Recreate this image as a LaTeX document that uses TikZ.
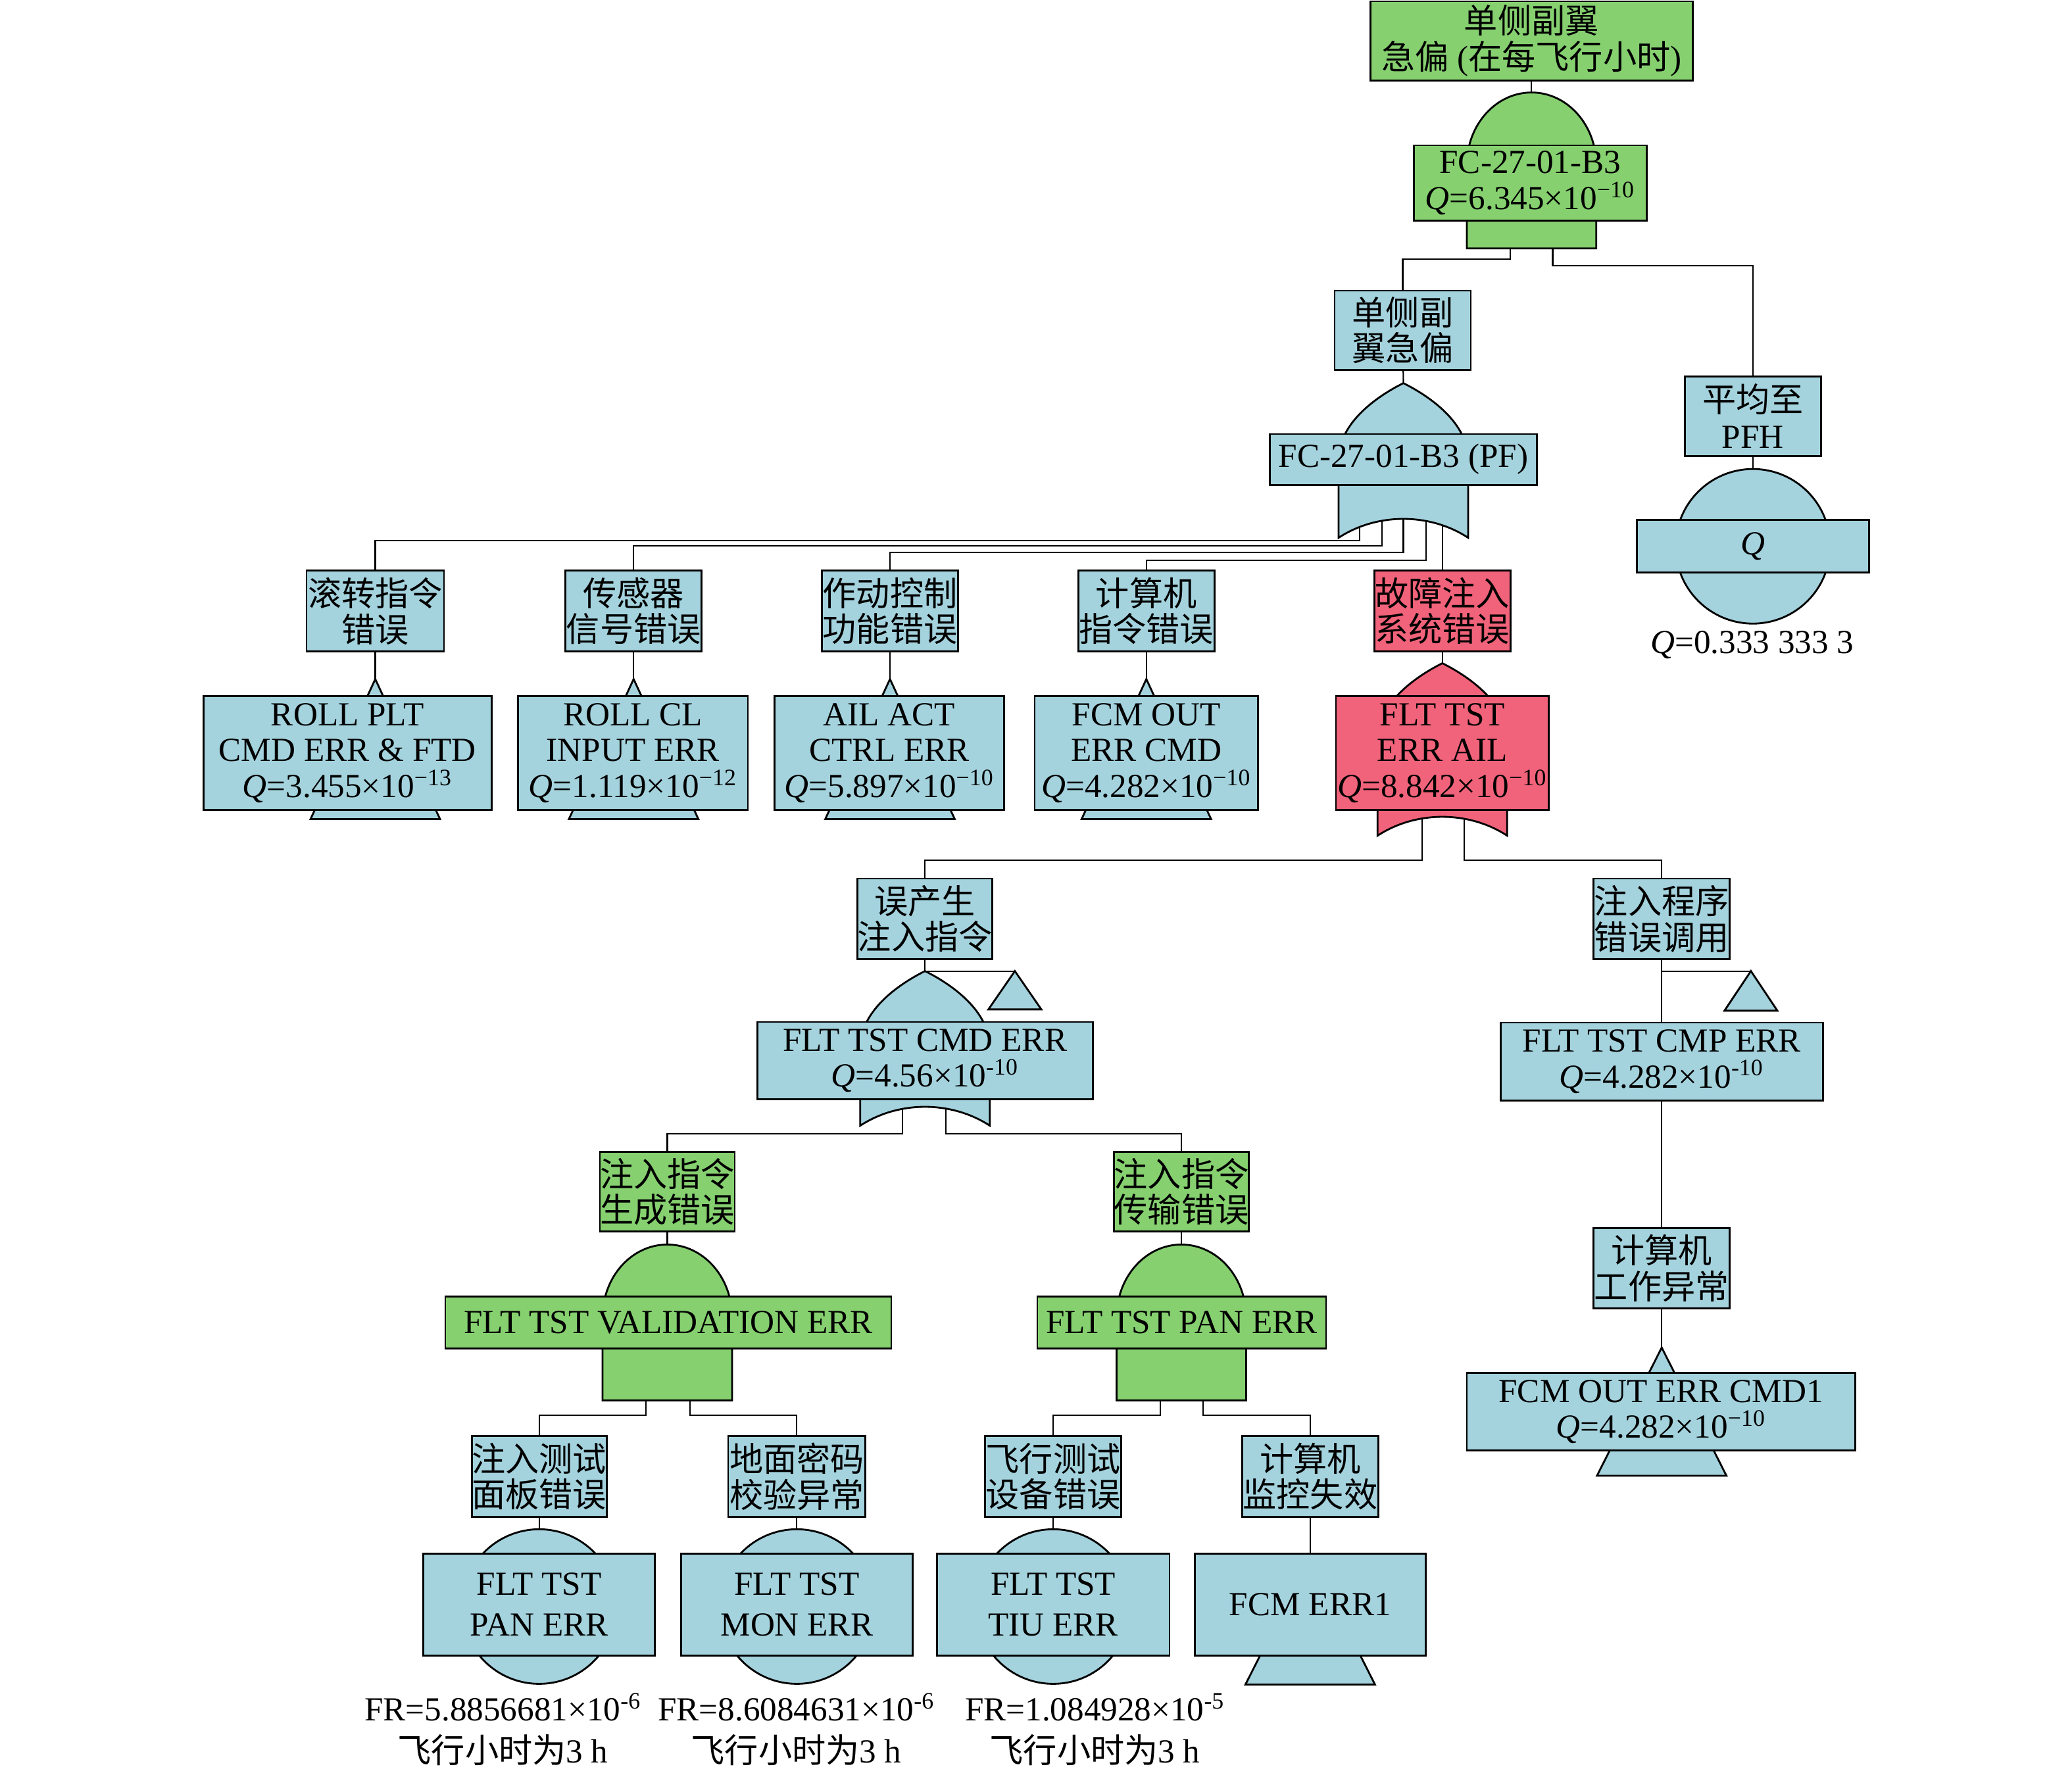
\documentclass[tikz,border=0pt]{standalone}
\usepackage{fontspec}
\setmainfont{Liberation Serif}
\newfontfamily\cjk{Noto Sans CJK SC}
\usepackage{xcolor}
\definecolor{ftgreen}{RGB}{134,208,112}
\definecolor{ftblue}{RGB}{164,211,222}
\definecolor{ftred}{RGB}{241,99,122}
\pgfdeclarelayer{wires}
\pgfdeclarelayer{gates}
\pgfsetlayers{wires,gates,main}
\newcommand{\zh}[1]{{\cjk #1}}
\newcommand{\qv}[2]{\textit{Q}=#1×10\textsuperscript{#2}}
% AND gate: x, apex y, bottom y, colour
\newcommand{\andgate}[4]{\draw[gate,fill=#4] ({#1-49},#3) -- ({#1-49},{#2+55}) .. controls ({#1-49},{#2+24.6}) and ({#1-27.1},#2) .. (#1,#2) .. controls ({#1+27.1},#2) and ({#1+49},{#2+24.6}) .. ({#1+49},{#2+55}) -- ({#1+49},#3) -- cycle;}
% OR gate: x, apex y, tip y, colour
\newcommand{\orgate}[4]{\draw[gate,fill=#4] (#1,#2) .. controls ({#1+20},{#2+10}) and ({#1+49},{#2+30}) .. ({#1+49},{#2+58}) -- ({#1+49},#3) .. controls ({#1+20},{#3-19}) and ({#1-20},{#3-19}) .. ({#1-49},#3) -- ({#1-49},{#2+58}) .. controls ({#1-49},{#2+30}) and ({#1-20},{#2+10}) .. (#1,#2) -- cycle;}
% transfer triangle: x, apex y, base y, half width
\newcommand{\xfer}[4]{\draw[gate,fill=ftblue] (#1,#2) -- ({#1+#4},#3) -- ({#1-#4},#3) -- cycle;}

\begin{document}
\begin{tikzpicture}[x=0.2mm,y=-0.2mm,
  box/.style={draw,line width=0.8pt,inner sep=0pt,align=center,font=\fontsize{14.5}{15.5}\selectfont},
  sz/.style 2 args={minimum width=#1*0.2mm,minimum height=#2*0.2mm},
  gate/.style={draw,line width=0.8pt},
  wire/.style={draw,line width=0.6pt},
  evc/.style={circle,draw,fill=ftblue,line width=0.8pt,inner sep=0pt,minimum size=117*0.2mm},
  lab/.style={inner sep=0pt,align=center,font=\fontsize{14.5}{18}\selectfont}]
\useasboundingbox (0,0) rectangle (1568,1342);

%Top event
\node[box,fill=ftgreen,sz={244}{60}] (top) at (1159,31) {\zh{单侧副翼}\\\zh{急偏} (\zh{在每飞行小时})};
\node[box,fill=ftgreen,sz={176}{57}] (fc) at (1158,138.5) {FC-27-01-B3\\\qv{6.345}{−10}};
\node[box,fill=ftblue,sz={103}{60}] (sfy) at (1061.5,250) {\zh{单侧副}\\\zh{翼急偏}};
\node[box,fill=ftblue,sz={202}{38.5}] (pf) at (1062,347.75) {FC-27-01-B3 (PF)};
\node[box,fill=ftblue,sz={103}{60}] (pfh) at (1326.5,315) {\zh{平均至}\\PFH};
\node[box,fill=ftblue,sz={175.5}{40}] (qb) at (1326.5,413.5) {\textit{Q}};
\node[lab] (qlab) at (1326,488) {\textit{Q}=0.333 333 3};

%Second row
\node[box,fill=ftblue,sz={104}{61}] (gz1) at (284,462.5) {\zh{滚转指令}\\\zh{错误}};
\node[box,fill=ftblue,sz={103}{61}] (gz2) at (479.5,462.5) {\zh{传感器}\\\zh{信号错误}};
\node[box,fill=ftblue,sz={103}{61}] (gz3) at (673.5,462.5) {\zh{作动控制}\\\zh{功能错误}};
\node[box,fill=ftblue,sz={103}{61}] (gz4) at (867.5,462.5) {\zh{计算机}\\\zh{指令错误}};
\node[box,fill=ftred,sz={103}{61}] (gz5) at (1091.5,462.5) {\zh{故障注入}\\\zh{系统错误}};

\node[box,fill=ftblue,sz={218}{86}] (ev1) at (263,570) {ROLL PLT\\CMD ERR \& FTD\\\qv{3.455}{−13}};
\node[box,fill=ftblue,sz={174}{86}] (ev2) at (479,570) {ROLL CL\\INPUT ERR\\\qv{1.119}{−12}};
\node[box,fill=ftblue,sz={174}{86}] (ev3) at (673,570) {AIL ACT\\CTRL ERR\\\qv{5.897}{−10}};
\node[box,fill=ftblue,sz={169}{86}] (ev4) at (867.5,570) {FCM OUT\\ERR CMD\\\qv{4.282}{−10}};
\node[box,fill=ftred,sz={161}{86}] (ev5) at (1091.5,570) {FLT TST\\ERR AIL\\\qv{8.842}{−10}};

%Fault injection branch
\node[box,fill=ftblue,sz={102}{61}] (cmdg) at (700,695.5) {\zh{误产生}\\\zh{注入指令}};
\node[box,fill=ftblue,sz={103}{61}] (cmpg) at (1257.5,695.5) {\zh{注入程序}\\\zh{错误调用}};
\node[box,fill=ftblue,sz={254}{58.5}] (cmd) at (700,802.75) {FLT TST CMD ERR\\\qv{4.56}{-10}};
\node[box,fill=ftblue,sz={244}{59}] (cmp) at (1257.5,803.5) {FLT TST CMP ERR\\\qv{4.282}{-10}};
\node[box,fill=ftgreen,sz={102}{60.5}] (gen) at (505,902) {\zh{注入指令}\\\zh{生成错误}};
\node[box,fill=ftgreen,sz={102}{60.5}] (trn) at (894,902) {\zh{注入指令}\\\zh{传输错误}};
\node[box,fill=ftblue,sz={103}{60.5}] (wrk) at (1257.5,960) {\zh{计算机}\\\zh{工作异常}};
\node[box,fill=ftgreen,sz={337.5}{39.6}] (val) at (505.75,1001) {FLT TST VALIDATION ERR};
\node[box,fill=ftgreen,sz={218.5}{39.6}] (pan) at (894.25,1001) {FLT TST PAN ERR};
\node[box,fill=ftblue,sz={294}{59}] (out1) at (1257,1068.5) {FCM OUT ERR CMD1\\\qv{4.282}{−10}};

%Basic events
\node[box,fill=ftblue,sz={102}{61}] (b1) at (408,1117.5) {\zh{注入测试}\\\zh{面板错误}};
\node[box,fill=ftblue,sz={104}{61}] (b2) at (603,1117.5) {\zh{地面密码}\\\zh{校验异常}};
\node[box,fill=ftblue,sz={103}{61}] (b3) at (797,1117.5) {\zh{飞行测试}\\\zh{设备错误}};
\node[box,fill=ftblue,sz={103}{61}] (b4) at (991.5,1117.5) {\zh{计算机}\\\zh{监控失效}};
\node[box,fill=ftblue,sz={175}{77}] (e1) at (408,1214.5) {FLT TST\\[2pt]PAN ERR};
\node[box,fill=ftblue,sz={175}{77}] (e2) at (603,1214.5) {FLT TST\\[2pt]MON ERR};
\node[box,fill=ftblue,sz={176}{77}] (e3) at (797,1214.5) {FLT TST\\[2pt]TIU ERR};
\node[box,fill=ftblue,sz={175}{77}] (e4) at (991.5,1214.5) {FCM ERR1};

% Text Node
\node[lab] (fr1) at (380.6,1309) {FR=5.8856681×10\textsuperscript{-6}\\\zh{飞行小时为}3 h};
\node[lab] (fr2) at (602.6,1309) {FR=8.6084631×10\textsuperscript{-6}\\\zh{飞行小时为}3 h};
\node[lab] (fr3) at (828.6,1309) {FR=1.084928×10\textsuperscript{-5}\\\zh{飞行小时为}3 h};

%Gates
\coordinate (g0) at (1159,70);
\coordinate (o1) at (1062,290);
\coordinate (o2) at (1091.5,502);
\coordinate (o3) at (700,735);
\coordinate (a1) at (505,942);
\coordinate (a2) at (894,942);
\coordinate (t5) at (1257.5,1020);
\coordinate (s1) at (768,735);
\coordinate (s2) at (1325,735);
\foreach \tx [count=\i] in {284,479.5,673.5,867.5} \coordinate (t\i) at (\tx,514);

\begin{pgfonlayer}{gates}
\andgate{1159}{70}{188}{ftgreen}
\orgate{1062}{290}{407}{ftblue}
\orgate{1091.5}{502}{632.5}{ftred}
\orgate{700}{735}{852}{ftblue}
\andgate{505}{942}{1060}{ftgreen}
\andgate{894}{942}{1060}{ftgreen}
\foreach \tx in {284,479.5,673.5,867.5} {\xfer{\tx}{514}{620}{49}}
\xfer{1257.5}{1020}{1117}{49}
\xfer{991.5}{1178}{1275}{49}
\xfer{768}{735}{764}{20}
\xfer{1325}{735}{765}{20}
\node[evc] (c1) at (408,1216) {};
\node[evc] (c2) at (603,1216) {};
\node[evc] (c3) at (797,1216) {};
\node[evc] (cq) at (1326.5,413.5) {};
\end{pgfonlayer}

%Connectors
\coordinate (g0l) at (1143,185);
\coordinate (g0r) at (1175,185);
\foreach \lx [count=\i] in {1029,1046,1062,1079,1091.5} \coordinate (o1\i) at (\lx,385);
\coordinate (o2a) at (1076,610);
\coordinate (o2b) at (1108,610);
\coordinate (o3a) at (683,830);
\coordinate (o3b) at (716,830);
\coordinate (a1a) at (489,1055);
\coordinate (a1b) at (522,1055);
\coordinate (a2a) at (878,1055);
\coordinate (a2b) at (910.6,1055);

\begin{pgfonlayer}{wires}
\draw[wire] (top) -- (g0);
\draw[wire] (g0l) -- ++(0,11) -| (sfy);
\draw[wire] (g0r) -- ++(0,16) -| (pfh);
\draw[wire] (sfy) -- (o1);
\draw[wire] (pfh) -- (cq);
\draw[wire] (o11) -- ++(0,24) -| (gz1);
\draw[wire] (o12) -- ++(0,28) -| (gz2);
\draw[wire] (o13) -- ++(0,33) -| (gz3);
\draw[wire] (o14) -- ++(0,39) -| (gz4);
\draw[wire] (o15) -- (gz5);
\foreach \i in {1,2,3,4} \draw[wire] (gz\i) -- (t\i);
\draw[wire] (gz5) -- (o2);
\draw[wire] (o2a) -- ++(0,41) -| (cmdg);
\draw[wire] (o2b) -- ++(0,41) -| (cmpg);
\draw[wire] (cmdg) -- (o3) -- (s1);
\draw[wire] (cmpg) -- (wrk);
\draw[wire] (cmpg.south |- s2) -- (s2);
\draw[wire] (o3a) -- ++(0,28) -| (gen);
\draw[wire] (o3b) -- ++(0,28) -| (trn);
\draw[wire] (gen) -- (a1);
\draw[wire] (trn) -- (a2);
\draw[wire] (wrk) -- (t5);
\draw[wire] (a1a) -- ++(0,16) -| (b1);
\draw[wire] (a1b) -- ++(0,16) -| (b2);
\draw[wire] (a2a) -- ++(0,16) -| (b3);
\draw[wire] (a2b) -- ++(0,16) -| (b4);
\draw[wire] (b1) -- (c1);
\draw[wire] (b2) -- (c2);
\draw[wire] (b3) -- (c3);
\draw[wire] (b4) -- (e4);
\end{pgfonlayer}

\end{tikzpicture}
\end{document}
